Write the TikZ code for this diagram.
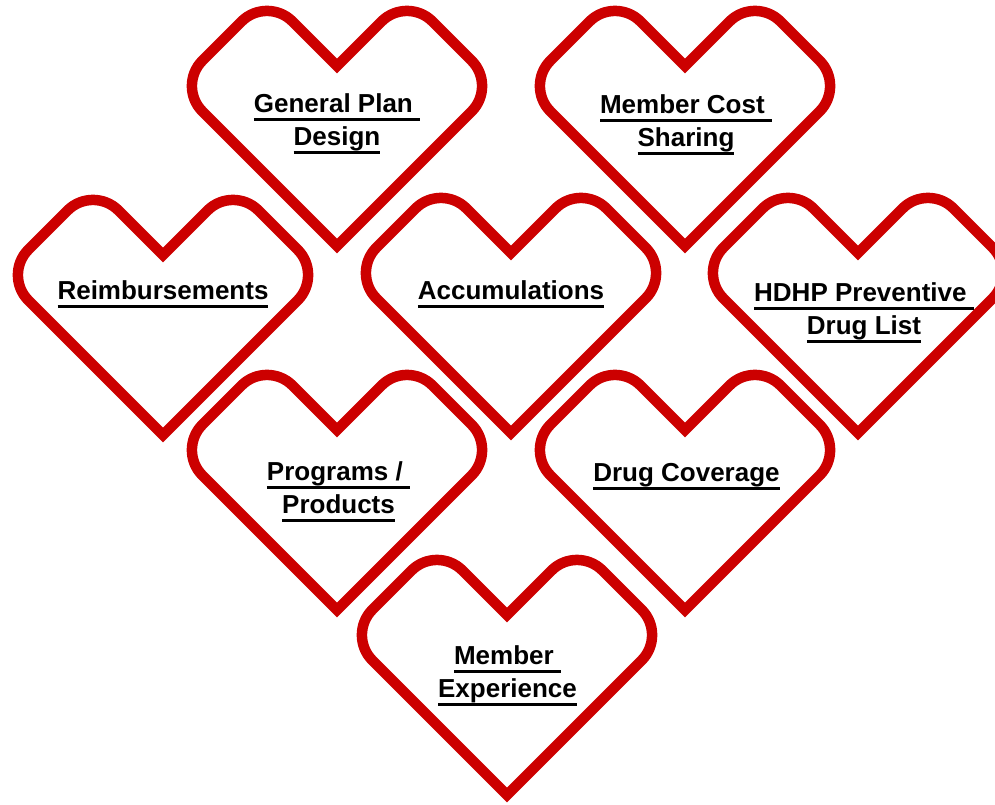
\documentclass[tikz,border=0pt]{standalone}
\usepackage{fontspec}
\setmainfont{Liberation Sans}
\definecolor{heartred}{HTML}{CC0000}
\newcommand\ulx[1]{\setbox0=\hbox{#1}\rlap{\rule[-8.5pt]{\wd0}{2.5pt}}\box0}
\tikzset{
 heartline/.style={draw=heartred, line width=10.5pt, line join=miter},
 heart/.pic={\path[heartline] (0,0) [rounded corners=36pt] -- (-160,-160) -- (-70,-250) [sharp corners] -- (0,-180) [rounded corners=36pt] -- (70,-250) -- (160,-160) [sharp corners] -- cycle;},
 hearttext/.style={font=\fontsize{26}{33}\selectfont\bfseries, align=center, anchor=base, inner sep=0pt}
}
\begin{document}
\begin{tikzpicture}[x=1pt,y=-1pt]
\clip (0,0) rectangle (995,804);
% hearts (tip positions)
\pic (gpd) at (337,246) {heart};
\pic (mcs) at (685,246) {heart};
\pic (rei) at (163,435) {heart};
\pic (acc) at (511,433) {heart};
\pic (hdhp) at (858,433) {heart};
\pic (pp) at (337,610) {heart};
\pic (dc) at (685,610) {heart};
\pic (me) at (507,795) {heart};
% labels (base anchor = baseline of the last line)
\node[hearttext] (tgpd) at (337,145) {\ulx{General Plan\ }\\\ulx{Design}};
\node[hearttext] (tmcs) at (686,146) {\ulx{Member Cost\ }\\\ulx{Sharing}};
\node[hearttext] (trei) at (163,299) {\ulx{Reimbursements}};
\node[hearttext] (tacc) at (511,299) {\ulx{Accumulations}};
\node[hearttext] (thdhp) at (864,334) {\ulx{HDHP Preventive\ }\\\ulx{Drug List}};
\node[hearttext] (tpp) at (338.5,513) {\ulx{Programs /\ }\\\ulx{Products}};
\node[hearttext] (tdc) at (686.5,481) {\ulx{Drug Coverage}};
\node[hearttext] (tme) at (507.5,697) {\ulx{Member\ }\\\ulx{Experience}};
\end{tikzpicture}
\end{document}
